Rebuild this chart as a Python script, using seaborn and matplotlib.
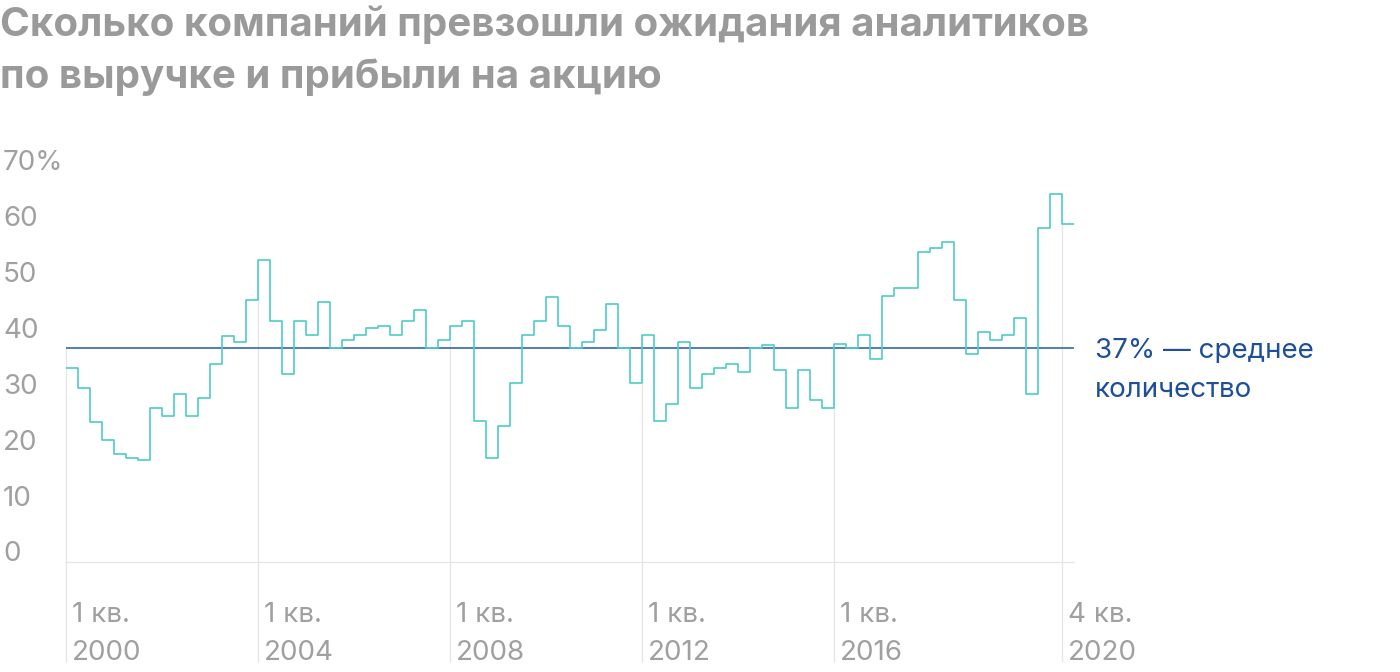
import numpy as np
import pandas as pd
import matplotlib
matplotlib.use("Agg")
import matplotlib.pyplot as plt
import matplotlib.transforms as mtransforms
import seaborn as sns

# ---- data -------------------------------------------------------------
years = list(range(2000, 2021))
quarters = ["1 кв.", "2 кв.", "3 кв.", "4 кв."]
values = [
    33.4, 29.8, 23.7, 20.5,   # 2000
    18.0, 17.3, 16.9, 26.2,   # 2001
    24.8, 28.7, 24.8, 28.0,   # 2002
    34.1, 39.1, 38.0, 45.6,   # 2003
    52.7, 41.7, 32.3, 41.7,   # 2004
    39.2, 45.2, 37.0, 38.4,   # 2005
    39.2, 40.6, 40.9, 39.2,   # 2006
    41.7, 43.8, 37.0, 38.4,   # 2007
    40.9, 41.7, 23.8, 17.3,   # 2008
    23.0, 30.6, 39.2, 41.7,   # 2009
    46.0, 40.9, 37.0, 38.1,   # 2010
    40.2, 44.9, 37.0, 30.6,   # 2011
    39.2, 23.8, 27.0, 38.1,   # 2012
    29.8, 32.3, 33.4, 34.1,   # 2013
    32.7, 37.0, 37.4, 33.1,   # 2014
    26.3, 33.1, 27.7, 26.3,   # 2015
    37.7, 37.0, 39.2, 34.9,   # 2016
    46.3, 47.7, 47.7, 54.2,   # 2017
    54.9, 56.0, 45.6, 35.9,   # 2018
    39.9, 38.4, 39.2, 42.4,   # 2019
    28.8, 58.5, 64.6, 59.2,   # 2020
]
mean_value = 37
tick_quarters = ["1 кв.\n2000", "1 кв.\n2004", "1 кв.\n2008",
                 "1 кв.\n2012", "1 кв.\n2016", "4 кв.\n2020"]
tick_index = [0, 16, 32, 48, 64, 83]
y_ticks = [0, 10, 20, 30, 40, 50, 60, 70]
y_labels = ["0", "10", "20", "30", "40", "50", "60", "70%"]
title_lines = ["Сколько компаний превзошли ожидания аналитиков",
               "по выручке и прибыли на акцию"]
mean_label = "37% — среднее\nколичество"

# ---- style -------------------------------------------------------------
sns.set_theme(style="white")
plt.rcParams["font.family"] = ["Inter", "DejaVu Sans"]

TEAL = "#4ECDC4"
MEAN_BLUE = "#3E6DB0"
TEXT_BLUE = "#1D4F9C"
GRAY_TXT = "#A0A0A0"
TITLE_GRAY = "#9A9A9A"
GRID = "#E6E6E6"
FS = 20

W, H = 1400, 672
fig = plt.figure(figsize=(W / 100, H / 100), dpi=100)
ax = fig.add_axes([66 / W, (H - 562) / H, 1008 / W, (562 - 150) / H])

n = len(values)
x = list(range(n + 1))
y = values + [values[-1]]
df = pd.DataFrame({"q": x, "v": y})

# vertical gridlines (drop lines) below the series
for idx in tick_index:
    top = max(values[idx], mean_value)
    ax.vlines(idx, -19.3, top, color=GRID, lw=1.0, zorder=1, clip_on=False)

ax.axhline(mean_value, color=MEAN_BLUE, lw=1.25, zorder=2)

sns.lineplot(data=df, x="q", y="v", drawstyle="steps-post", color=TEAL,
             lw=1.2, ax=ax, zorder=3)

ax.set_xlim(0, n)
ax.set_ylim(-1.36, 72.4)
for s in ["top", "right", "left"]:
    ax.spines[s].set_visible(False)
ax.spines["bottom"].set_color(GRID)
ax.spines["bottom"].set_linewidth(1.0)
ax.set_xlabel("")
ax.set_ylabel("")

ax.set_yticks(y_ticks)
ax.set_yticklabels(y_labels)
ax.tick_params(axis="y", length=0, pad=45.4, labelsize=FS, labelcolor=GRAY_TXT)
yoff = mtransforms.ScaledTranslation(0, 3 / 100, fig.dpi_scale_trans)
for lab in ax.get_yticklabels():
    lab.set_horizontalalignment("left")
    lab.set_transform(lab.get_transform() + yoff)

ax.set_xticks(tick_index)
ax.set_xticklabels(tick_quarters)
ax.tick_params(axis="x", length=0, pad=29, labelsize=FS, labelcolor=GRAY_TXT)
offset = mtransforms.ScaledTranslation(6 / 100, 0, fig.dpi_scale_trans)
for lab in ax.get_xticklabels():
    lab.set_horizontalalignment("left")
    lab.set_linespacing(1.6)
    lab.set_transform(lab.get_transform() + offset)

# mean annotation (last line baseline)
ax.text(1095 / 1400, (554.4 - 397) / 5.586, mean_label,
        transform=mtransforms.blended_transform_factory(fig.transFigure, ax.transData),
        ha="left", va="baseline", fontsize=FS, color=TEXT_BLUE, linespacing=1.65)

# title
fig.text(0, 1 - 36 / H, title_lines[0], ha="left", va="baseline",
         fontsize=29, fontweight="bold", color=TITLE_GRAY)
fig.text(0, 1 - 88 / H, title_lines[1], ha="left", va="baseline",
         fontsize=29, fontweight="bold", color=TITLE_GRAY)

fig.savefig("out.png", dpi=100)
